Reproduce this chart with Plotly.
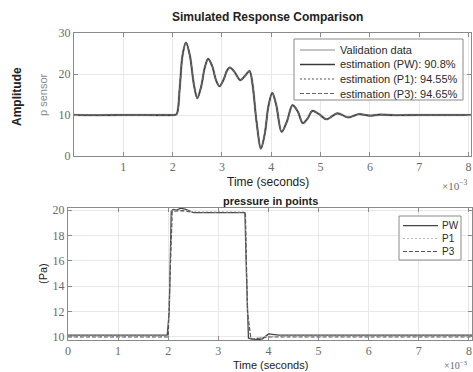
import plotly.graph_objects as go

# ---- Upper panel: sensor pressure response (time in units of 1e-3 s) ----
t_resp = [0.0, 0.5, 1.0, 1.5, 2.0, 2.08, 2.14, 2.20, 2.27, 2.35, 2.43, 2.50, 2.58, 2.65,
          2.72, 2.80, 2.88, 2.95, 3.04, 3.10, 3.16, 3.25, 3.37, 3.47, 3.56, 3.62, 3.70,
          3.79, 3.87, 3.94, 4.02, 4.10, 4.21, 4.32, 4.43, 4.54, 4.64, 4.74, 4.83, 4.97,
          5.12, 5.34, 5.56, 5.77, 6.0, 6.2, 6.5, 7.0, 7.5, 8.08]
p_sensor = [10.0, 9.95, 10.0, 10.0, 10.0, 10.2, 16.0, 24.5, 27.7, 24.5, 17.5, 14.1, 17.0, 21.5,
            23.7, 22.0, 18.5, 17.0, 18.8, 20.8, 21.6, 20.6, 18.5, 19.6, 20.7, 17.5, 8.5,
            1.8, 5.5, 12.0, 15.4, 12.5, 5.9, 8.5, 12.4, 10.8, 8.0, 9.2, 11.0, 10.2,
            8.95, 10.4, 9.4, 10.2, 9.85, 10.1, 9.95, 10.0, 10.0, 10.0]
resp_labels = ["Validation data", "estimation (PW): 90.8%",
               "estimation (P1): 94.55%", "estimation (P3): 94.65%"]

# ---- Lower panel: pressure in points ----
t_pw = [0.0, 1.0, 1.98, 2.02, 2.06, 2.10, 2.17, 2.25, 2.35, 2.50, 3.0, 3.53, 3.56, 3.60,
        3.68, 3.77, 3.88, 4.0, 4.2, 5.0, 6.0, 7.0, 8.06]
p_pw = [10.15, 10.15, 10.15, 12.0, 19.9, 20.05, 20.0, 20.15, 20.05, 19.8, 19.8, 19.8, 15.0,
        9.9, 9.85, 9.78, 9.85, 10.24, 10.15, 10.15, 10.15, 10.15, 10.15]
t_p1 = [0.0, 2.0, 2.03, 2.08, 2.3, 2.5, 3.54, 3.58, 3.65, 4.0, 4.2, 8.06]
p_p1 = [10.05, 10.05, 14.0, 19.95, 20.0, 19.85, 19.85, 12.0, 9.85, 10.05, 10.05, 10.05]
t_p3 = [0.0, 2.0, 2.03, 2.08, 2.3, 2.5, 3.54, 3.58, 3.65, 4.0, 4.2, 8.06]
p_p3 = [10.0, 10.0, 14.0, 19.9, 19.95, 19.8, 19.8, 12.0, 9.82, 10.0, 10.0, 10.0]
point_labels = ["PW", "P1", "P3"]

W, H = 473, 372
SERIF = "Liberation Serif"
SANS = "Liberation Sans"
TICK_GRAY = "#6a6a6a"
FRAME = "#8a8a8a"
GRID = "#e8e8e8"
TEXT = "#2a2a2a"


def px(x):
    return x / W


def py(y):
    return 1 - y / H


fig = go.Figure()

resp_styles = [
    dict(color="#c4c4c4", width=2.6, dash="solid"),
    dict(color="#3a3a3a", width=1.6, dash="solid"),
    dict(color="#555555", width=1.2, dash="2px,2px"),
    dict(color="#666666", width=1.2, dash="4px,2px"),
]
for name, st in zip(resp_labels, resp_styles):
    fig.add_trace(go.Scatter(x=t_resp, y=p_sensor, mode="lines", name=name,
                             line=dict(shape="spline", smoothing=0.9, **st),
                             xaxis="x", yaxis="y", showlegend=False))

point_styles = [
    dict(color="#444444", width=1.3, dash="solid"),
    dict(color="#b8b8b8", width=1.2, dash="2px,2px"),
    dict(color="#555555", width=1.1, dash="4px,2px"),
]
for name, tx, vy, st in zip(point_labels, [t_pw, t_p1, t_p3], [p_pw, p_p1, p_p3], point_styles):
    fig.add_trace(go.Scatter(x=tx, y=vy, mode="lines", name=name, line=st,
                             xaxis="x2", yaxis="y2", showlegend=False))

axis_common = dict(
    showline=True, linecolor=FRAME, linewidth=1, mirror="allticks",
    ticks="inside", ticklen=4, tickcolor=FRAME,
    showgrid=True, gridcolor=GRID, gridwidth=1, zeroline=False,
    tickfont=dict(family=SERIF, size=12, color=TICK_GRAY),
    automargin=False,
)

fig.update_layout(
    width=W, height=H,
    margin=dict(l=0, r=0, t=0, b=0),
    paper_bgcolor="white", plot_bgcolor="white",
    showlegend=False,
    xaxis=dict(domain=[px(74), px(471)], range=[0, 8.05],
               tickvals=[1, 2, 3, 4, 5, 6, 7, 8], anchor="y", **axis_common),
    yaxis=dict(domain=[py(156), py(33)], range=[0, 30],
               tickvals=[0, 10, 20, 30], anchor="x", **axis_common),
    xaxis2=dict(domain=[px(68), px(472)], range=[0, 8.06],
                tickvals=[0, 1, 2, 3, 4, 5, 6, 7, 8], anchor="y2", **axis_common),
    yaxis2=dict(domain=[py(340), py(208)], range=[9.76, 20.16],
                tickvals=[10, 12, 14, 16, 18, 20], anchor="x2", **axis_common),
)


def add_legend_box(box, rows, labels, styles, line_x, text_x, size):
    """Compact MATLAB-style legend: framed box, sample line and label per row."""
    x0, y0, x1, y1 = box
    fig.add_shape(type="rect", xref="paper", yref="paper",
                  x0=px(x0), x1=px(x1), y0=py(y1), y1=py(y0),
                  fillcolor="white", line=dict(color=FRAME, width=1), layer="above")
    for yy, lab, st in zip(rows, labels, styles):
        fig.add_shape(type="line", xref="paper", yref="paper",
                      x0=px(line_x[0]), x1=px(line_x[1]), y0=py(yy), y1=py(yy),
                      line=dict(color=st["color"], width=min(st["width"], 2.0), dash=st["dash"]),
                      layer="above")
        fig.add_annotation(text=lab, xref="paper", yref="paper", showarrow=False,
                           x=px(text_x), y=py(yy), xanchor="left", yanchor="middle",
                           font=dict(family=SANS, size=size, color=TEXT))


add_legend_box((294, 39, 463, 100), [50, 64.5, 79, 93.5], resp_labels, resp_styles,
               (300, 335), 338, 11)
add_legend_box((399, 216, 461, 260), [225.7, 238.5, 251.5], point_labels, point_styles,
               (403, 438), 440, 10)

annots = [
    dict(text="<b>Simulated Response Comparison</b>", x=px(267), y=py(17),
         font=dict(family=SANS, size=12, color="#222222")),
    dict(text="Time (seconds)", x=px(268), y=py(182),
         font=dict(family=SANS, size=12, color="#222222")),
    dict(text="<b>Amplitude</b>", x=px(17), y=py(97), textangle=-90,
         font=dict(family=SANS, size=12, color="#222222")),
    dict(text="p sensor", x=px(43), y=py(95), textangle=-90,
         font=dict(family=SANS, size=11, color="#8a8a8a")),
    dict(text="×10<sup>−3</sup>", x=px(455), y=py(185),
         font=dict(family=SERIF, size=11, color=TICK_GRAY)),
    dict(text="<b>pressure in points</b>", x=px(270), y=py(201),
         font=dict(family=SANS, size=11, color="#222222")),
    dict(text="Time (seconds)", x=px(270), y=py(365),
         font=dict(family=SANS, size=11, color="#222222")),
    dict(text="(Pa)", x=px(43), y=py(274), textangle=-90,
         font=dict(family=SANS, size=11, color="#222222")),
    dict(text="×10<sup>−3</sup>", x=px(456), y=py(365),
         font=dict(family=SERIF, size=10, color=TICK_GRAY)),
]
for a in annots:
    fig.add_annotation(xref="paper", yref="paper", showarrow=False,
                       xanchor="center", yanchor="middle", **a)

fig.write_html("out.html")
